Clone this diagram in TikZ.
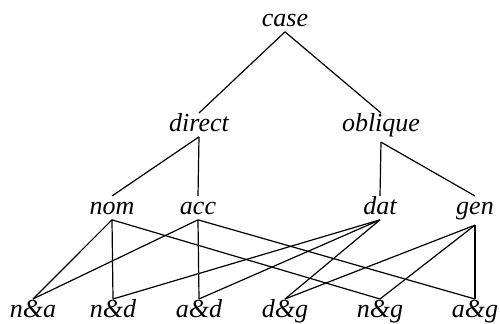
\documentclass[tikz,border=0pt]{standalone}
\usepackage{fontspec}
\setmainfont{Liberation Serif}
\usepackage{tikz}

\begin{document}
\begin{tikzpicture}[
        cat/.style={font=\itshape\fontsize{13}{15}\selectfont, inner sep=2pt, text height=0.72em, anchor=base},
        x=0.5pt, y=-0.5pt,
        line width=0.6pt
    ]
        \useasboundingbox (0,0) rectangle (500,324);

        % Top
        \node[cat] (case) at (285, 27) {case};

        % Second level
        \node[cat] (direct) at (199, 132) {direct};
        \node[cat] (oblique) at (381, 132) {oblique};

        % Cases
        \node[cat] (nom) at (112, 215) {nom};
        \node[cat] (acc) at (198, 215) {acc};
        \node[cat] (dat) at (380, 215) {dat};
        \node[cat] (gen) at (475, 215) {gen};

        % Pairs
        \node[cat] (na) at (33, 318) {n\&a};
        \node[cat] (nd) at (113, 318) {n\&d};
        \node[cat] (ad) at (199, 318) {a\&d};
        \node[cat] (dg) at (285, 318) {d\&g};
        \node[cat] (ng) at (380, 318) {n\&g};
        \node[cat] (ag) at (475, 318) {a\&g};

        % Edges
        \draw (case.south) -- (direct.north);
        \draw (case.south) -- (oblique.north);
        \draw (direct.south) -- (nom.north);
        \draw (direct.south) -- (acc.north);
        \draw (oblique.south) -- (dat.north);
        \draw (oblique.south) -- (gen.north);

        \foreach \a/\b in {nom/na, nom/nd, nom/ng, acc/na, acc/ad, acc/ag,
                           dat/nd, dat/ad, dat/dg, gen/dg, gen/ng, gen/ag}
            \draw (\a.south) -- (\b.north);
    \end{tikzpicture}
\end{document}
